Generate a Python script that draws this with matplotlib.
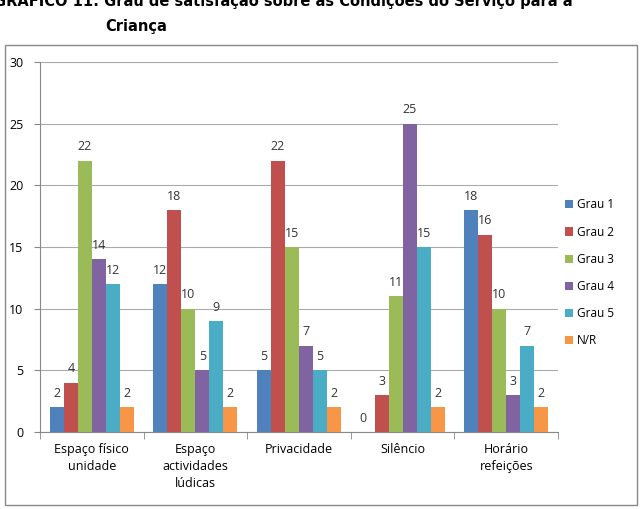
import matplotlib
matplotlib.use("Agg")
import matplotlib.pyplot as plt
import numpy as np
from matplotlib.patches import Rectangle

categories = ["Espaço físico\nunidade", "Espaço\nactividades\nlúdicas", "Privacidade", "Silêncio", "Horário\nrefeições"]
series_names = ["Grau 1", "Grau 2", "Grau 3", "Grau 4", "Grau 5", "N/R"]
grau1 = [2, 12, 5, 0, 18]
grau2 = [4, 18, 22, 3, 16]
grau3 = [22, 10, 15, 11, 10]
grau4 = [14, 5, 7, 25, 3]
grau5 = [12, 9, 5, 15, 7]
nr = [2, 2, 2, 2, 2]
series = [grau1, grau2, grau3, grau4, grau5, nr]
colors = ["#4F81BD", "#C0504D", "#9BBB59", "#8064A2", "#4BACC6", "#F79646"]

plt.rcParams['font.family'] = ['Open Sans', 'DejaVu Sans']

fig = plt.figure(figsize=(6.44, 5.09), dpi=100)
ax = fig.add_axes([40/644, 1-432/509, (558-40)/644, (432-62)/509])

# outer border
fig.patches.append(Rectangle((5/644, 4/509), 632/644, 460/509, transform=fig.transFigure,
                             fill=False, edgecolor="#888888", linewidth=1.0))

fig.text(-0.01, 1-6/509, "GRÁFICO 11: Grau de satisfação sobre as Condições do Serviço para a",
         fontsize=10.5, fontweight='bold', va='baseline', ha='left', family=['DejaVu Sans'])
fig.text(105/644, 1-26/509, "Criança", fontsize=10.5, fontweight='bold', va='center', ha='left',
         family=['DejaVu Sans'])

x = np.arange(len(categories))
n = len(series)
w = 0.135
for i, (vals, c, name) in enumerate(zip(series, colors, series_names)):
    pos = x + (i - (n - 1) / 2) * w
    ax.bar(pos, vals, width=w, color=c, label=name, zorder=3)
    for p, v in zip(pos, vals):
        xo = -0.05 if v == 0 else 0
        ax.text(p + xo, v + 0.6, str(v), ha='center', va='bottom', fontsize=9, color="#333333")

ax.set_xlim(-0.5, len(categories) - 0.5)
ax.set_ylim(0, 30)
ax.set_yticks(range(0, 31, 5))
ax.yaxis.grid(True, color="#aaaaaa", linewidth=0.8, zorder=0)
ax.set_axisbelow(True)
for s in ["top", "right"]:
    ax.spines[s].set_visible(False)
ax.spines["left"].set_color("#888888")
ax.spines["bottom"].set_color("#888888")
ax.set_xticks(x)
ax.set_xticklabels(categories, fontsize=9, va='top', linespacing=1.4)
ax.set_xticks(np.arange(-0.5, len(categories)), minor=True)
ax.tick_params(axis='x', which='major', length=0, pad=8)
ax.tick_params(axis='x', which='minor', length=5, color="#888888")
ax.tick_params(axis='y', length=4, color="#888888", labelsize=9, pad=8)

ax.legend(loc='center left', bbox_to_anchor=(565/558 - 0.02, 0.43), frameon=False, fontsize=8.5,
          handlelength=0.7, handleheight=0.7, handletextpad=0.3, labelspacing=1.2)

fig.savefig("out.png", dpi=100)
